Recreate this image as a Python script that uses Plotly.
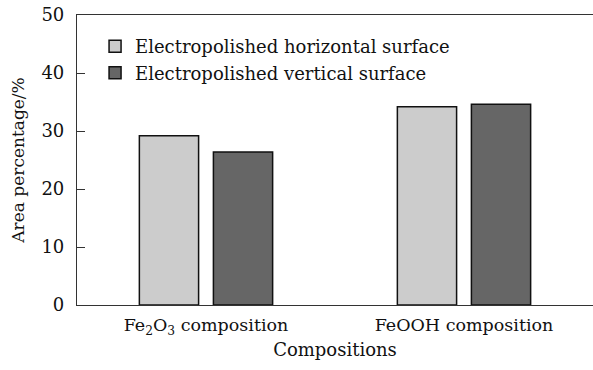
import plotly.graph_objects as go

categories = ["Fe<sub>2</sub>O<sub>3</sub> composition", "FeOOH composition"]
horizontal = [29.2, 34.2]
vertical = [26.4, 34.6]
series_names = ["Electropolished horizontal surface", "Electropolished vertical surface"]
y_ticks = [0, 10, 20, 30, 40, 50]

FONT = "DejaVu Serif"
FS = 18

fig = go.Figure()
fig.add_trace(go.Bar(x=categories, y=horizontal, name=series_names[0],
                     marker=dict(color="#cccccc", line=dict(color="#111111", width=1.5))))
fig.add_trace(go.Bar(x=categories, y=vertical, name=series_names[1],
                     marker=dict(color="#666666", line=dict(color="#111111", width=1.5))))

fig.update_layout(
    width=593, height=370,
    margin=dict(l=77, r=0, t=15, b=65),
    plot_bgcolor="white", paper_bgcolor="white",
    font=dict(family=FONT, size=FS, color="#111111"),
    barmode="group", bargap=0.426, bargroupgap=0.2,
    legend=dict(x=0.035, y=0.955, xanchor="left", yanchor="top",
                font=dict(size=FS, family=FONT), tracegroupgap=0,
                bgcolor="rgba(0,0,0,0)", itemwidth=30),
    showlegend=True,
)
fig.update_xaxes(
    showline=True, linecolor="#333333", linewidth=1.2, mirror=True,
    ticks="", showgrid=False, range=[-0.5, 1.5],
    title=dict(text="Compositions", font=dict(size=FS, family=FONT), standoff=6),
    tickfont=dict(size=FS - 0.5, family=FONT), ticklabelstandoff=4,
)
fig.update_yaxes(
    range=[0, 50], tickvals=y_ticks, showline=True, linecolor="#333333", linewidth=1.2,
    ticks="inside", ticklen=8, tickcolor="#333333", showgrid=False, zeroline=False,
    title=dict(text="Area percentage/%", font=dict(size=17, family=FONT), standoff=12),
    tickfont=dict(size=FS, family=FONT), ticklabelstandoff=8,
)

fig.write_html("out.html")
